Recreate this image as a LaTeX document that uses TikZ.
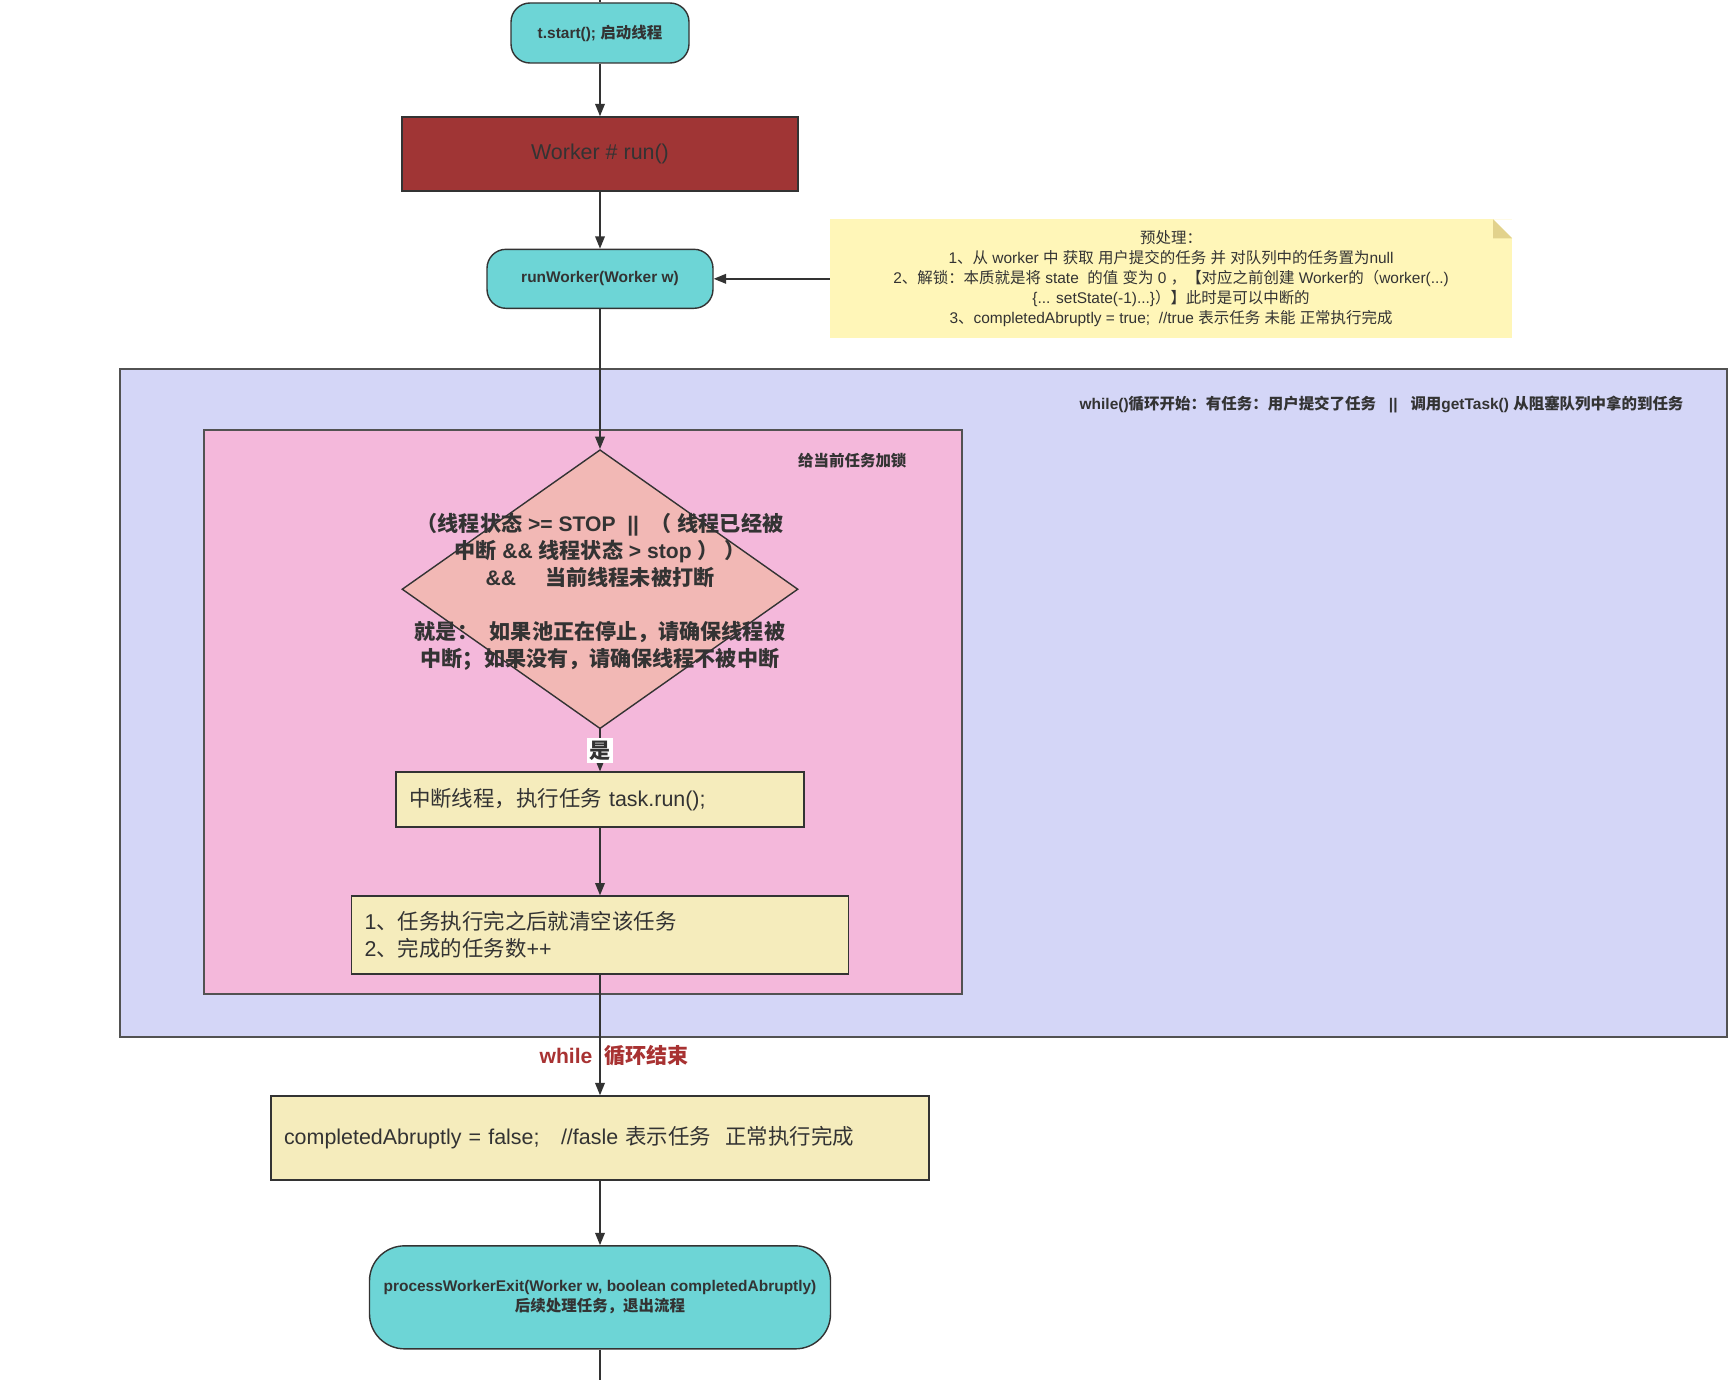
\documentclass[tikz,border=0pt]{standalone}
\usepackage{xcolor}
\usepackage{fontspec}
\setmainfont{Liberation Sans}
\newfontfamily\latinfont{Liberation Sans}
\newfontfamily\cjkfont{Noto Sans CJK SC}
\usetikzlibrary{shapes.geometric, arrows.meta, positioning, calc}

% Han characters and full-width punctuation go to the CJK font
\XeTeXinterchartokenstate=1
\newXeTeXintercharclass\hanclass
\makeatletter
\count@="3000
\loop\ifnum\count@<"3040 \XeTeXcharclass\count@=\hanclass\relax\advance\count@ by 1 \repeat
\count@="4E00
\loop\ifnum\count@<"A000 \XeTeXcharclass\count@=\hanclass\relax\advance\count@ by 1 \repeat
\count@="FF00
\loop\ifnum\count@<"FFF0 \XeTeXcharclass\count@=\hanclass\relax\advance\count@ by 1 \repeat
\makeatother
\XeTeXinterchartoks 0 \hanclass = {\cjkfont}
\XeTeXinterchartoks 4095 \hanclass = {\cjkfont}
\XeTeXinterchartoks \hanclass 0 = {\latinfont}
\XeTeXinterchartoks \hanclass 4095 = {\latinfont}

\newcommand\txtsmall{\fontsize{8.8}{11.4}\selectfont}
\newcommand\txtbig{\fontsize{12.2}{15.6}\selectfont}
\newcommand\txtcond{\fontsize{12}{15.4}\selectfont}

\definecolor{termteal}{RGB}{109, 213, 214}
\definecolor{runred}{RGB}{160, 53, 53}
\definecolor{noteyellow}{RGB}{255, 246, 184}
\definecolor{notefold}{RGB}{226, 210, 140}
\definecolor{loopblue}{RGB}{212, 214, 247}
\definecolor{lockpink}{RGB}{244, 184, 219}
\definecolor{condpink}{RGB}{242, 184, 181}
\definecolor{taskyellow}{RGB}{245, 236, 188}
\definecolor{inkgray}{RGB}{51, 51, 51}
\definecolor{endred}{RGB}{168, 50, 50}

\begin{document}
\begin{tikzpicture}[
    every node/.style={text=inkgray},
    term/.style={rectangle, draw=inkgray, fill=termteal, line width=0.8pt,
                 rounded corners=0.38cm, align=center, inner sep=0pt,
                 font=\txtsmall\bfseries},
    runbox/.style={rectangle, draw=inkgray, fill=runred, line width=0.8pt,
                   minimum width=7.92cm, minimum height=1.48cm, font=\txtbig},
    taskbox/.style={rectangle, draw=inkgray, fill=taskyellow, line width=0.8pt,
                    align=left, inner sep=0.26cm, font=\txtbig},
    cond/.style={diamond, draw=inkgray, fill=condpink, line width=0.8pt,
                 minimum width=7.92cm, minimum height=5.58cm, inner sep=0pt},
    condtext/.style={align=center, inner sep=0pt, font=\txtcond\bfseries},
    frame/.style={rectangle, draw=inkgray!85, line width=0.9pt, inner sep=0pt},
    tag/.style={inner sep=0pt, font=\txtsmall\bfseries},
    note/.style={rectangle, fill=noteyellow, minimum width=13.64cm,
                 minimum height=2.38cm, align=center, inner sep=0pt, font=\txtsmall,
                 path picture={
                   \fill[white] ($(path picture bounding box.north east)+(-0.38,0)$)
                     -- (path picture bounding box.north east) -- ++(0,-0.38) -- cycle;
                   \fill[notefold] ($(path picture bounding box.north east)+(-0.38,0)$)
                     -- ++(0,-0.38) -- ++(0.38,0) -- cycle;}},
    arr/.style={-{Triangle[length=7pt, width=5.5pt]}, line width=0.8pt, draw=inkgray},
    link/.style={line width=0.8pt, draw=inkgray},
]
\useasboundingbox (0,0) rectangle (34.72,-27.6);

% Loop frames
\node[frame, fill=loopblue, minimum width=32.14cm, minimum height=13.36cm] (loop) at (18.47,-14.06) {};
\node[frame, fill=lockpink, minimum width=15.16cm, minimum height=11.28cm] (lock) at (11.66,-14.24) {};
\node[tag, anchor=east] (looptag) at ($(loop.north east)+(-0.88,-0.72)$)
    {while()循环开始：有任务：用户提交了任务\ \ \ ||\ \ \ 调用getTask() 从阻塞队列中拿的到任务};
\node[tag, anchor=east] (locktag) at ($(lock.north east)+(-1.12,-0.62)$) {给当前任务加锁};

% Entry
\coordinate (top) at (12,0);
\node[term, minimum width=3.56cm, minimum height=1.2cm] (start) at (12,-0.66) {t.start(); 启动线程};
\node[runbox, below=1.05cm of start] (worker) {Worker \# run()};
\node[term, minimum width=4.52cm, minimum height=1.18cm, below=1.14cm of worker] (runw) {runWorker(Worker w)};
\node[note, right=2.32cm of runw] (prep) {预处理：\\
    1、从 worker 中 获取 用户提交的任务 并 对队列中的任务置为null\\
    2、解锁：本质就是将 state\ \ 的值 变为 0 ，【对应之前创建 Worker的（worker(...)\\
    \{... setState(-1)...\}）】此时是可以中断的\\
    3、completedAbruptly = true;\ \ //true 表示任务 未能 正常执行完成};

% Loop body
\node[cond, below=2.80cm of runw] (check) {};
\node[condtext, yshift=-0.05cm] (checktext) at (check.center) {（线程状态 >= STOP\ \ ||\ \ （ 线程已经被\\
    中断 \&\& 线程状态 > stop ）\ ）\\
    \&\&\hspace{1.4em}当前线程未被打断\\[\baselineskip]
    就是：\ \ 如果池正在停止，请确保线程被\\
    中断；如果没有，请确保线程不被中断};
\node[taskbox, text width=7.64cm, minimum height=1.1cm, below=0.84cm of check] (interrupt)
    {中断线程，执行任务 task.run();};
\node[taskbox, text width=9.42cm, minimum height=1.56cm, below=1.35cm of interrupt] (finish)
    {1、任务执行完之后就清空该任务\\2、完成的任务数++};

% Exit
\node[taskbox, text width=12.64cm, minimum height=1.68cm, below=2.41cm of finish] (normal)
    {completedAbruptly = false;\ \ \ //fasle 表示任务\ \ 正常执行完成};
\node[term, rounded corners=0.7cm, minimum width=9.22cm, minimum height=2.06cm, below=1.29cm of normal] (exit)
    {processWorkerExit(Worker w, boolean completedAbruptly)\\后续处理任务，退出流程};
\coordinate (bottom) at (12,-27.6);

% Arrows
\draw[link] (top) -- (start);
\draw[arr] (start) -- (worker);
\draw[arr] (worker) -- (runw);
\draw[arr] (prep) -- (runw);
\draw[arr] (runw) -- (check);
\draw[arr] (check) -- node[fill=white, inner sep=1.5pt, font=\txtcond\bfseries] {是} (interrupt);
\draw[arr] (interrupt) -- (finish);
\draw[arr] (finish) -- node[pos=0.67, xshift=0.28cm, font=\txtcond\bfseries, text=endred] {while\ \ 循环结束} (normal);
\draw[arr] (normal) -- (exit);
\draw[link] (exit) -- (bottom);

\end{tikzpicture}
\end{document}
